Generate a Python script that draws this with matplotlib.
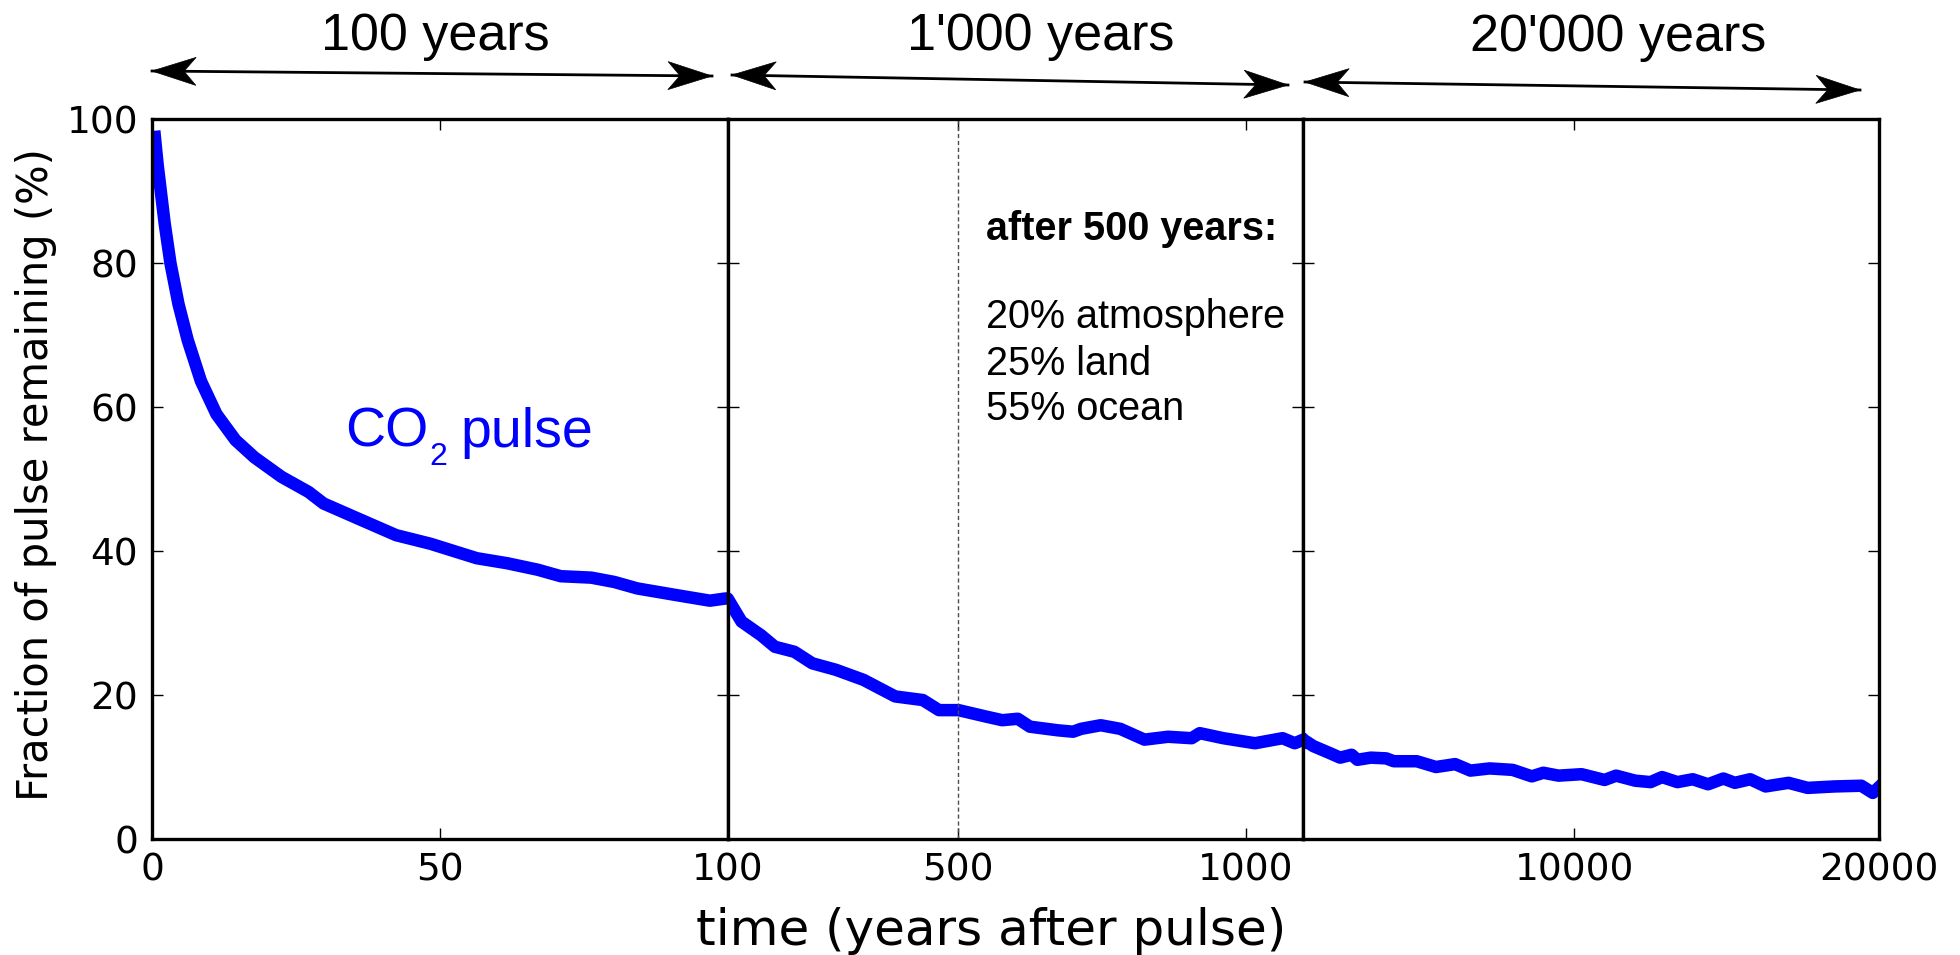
import numpy as np
import matplotlib
matplotlib.use("Agg")
import matplotlib.pyplot as plt
from matplotlib.patches import Polygon
from matplotlib.lines import Line2D

# CO2 pulse remaining (years after pulse, % remaining)
years = [0.5, 1.0, 1.6, 2.2, 3.2, 4.6, 6.2, 8.5, 11.2, 14.5, 17.8, 22.5, 27.2, 29.8,
         35.8, 42.4, 48.4, 56.4, 61.7, 67, 71, 76.3, 80.3, 84.3, 90.9, 96.9, 99.6,
         100, 124, 158, 182, 216, 247, 288, 336, 391, 439, 467, 501, 549, 577,
         604, 625, 673, 700, 714, 748, 782, 824, 865, 906, 920, 961, 1016, 1064,
         1085, 1100,
         1428, 1930, 2308, 2685, 2875, 3315, 3820, 4070, 4824, 5454, 6084, 6586,
         7216, 7971, 8601, 8978, 9480, 10235, 10990, 11367, 11997, 12499, 12877,
         13382, 13884, 14386, 14891, 15268, 15771, 16276, 17030, 17657, 18540,
         19420, 19797, 20000]
frac = [97.5, 93.5, 89.5, 85.5, 80.0, 74.3, 69.3, 63.6, 59.0, 55.4, 53.0, 50.3, 48.2, 46.6,
        44.5, 42.2, 41.0, 39.0, 38.3, 37.4, 36.5, 36.3, 35.7, 34.8, 33.9, 33.1, 33.4,
        33.4, 30.2, 28.3, 26.7, 26.0, 24.4, 23.5, 22.1, 19.8, 19.3, 17.9, 17.9, 17.0, 16.5,
        16.7, 15.6, 15.1, 14.9, 15.3, 15.8, 15.3, 13.8, 14.2, 14.0, 14.7, 14.0, 13.3, 14.0,
        13.3, 13.8,
        12.9, 12.0, 11.3, 11.7, 11.0, 11.3, 11.2, 10.8, 10.8, 10.0, 10.4, 9.5,
        9.8, 9.6, 8.7, 9.2, 8.8, 9.0, 8.2, 8.8, 8.1, 7.9, 8.6,
        7.9, 8.3, 7.6, 8.4, 7.8, 8.3, 7.3, 7.8, 7.1, 7.3,
        7.4, 6.4, 7.2]

panel_limits = [(0, 100), (100, 1100), (1100, 20000)]
panel_ticks = [[0, 50, 100], [500, 1000], [10000, 20000]]
y_ticks = [0, 20, 40, 60, 80, 100]
span_labels = ["100 years", "1'000 years", "20'000 years"]
box_title = "after 500 years:"
box_lines = ["20% atmosphere", "25% land", "55% ocean"]

W, H = 1960, 955
fig = plt.figure(figsize=(W / 100, H / 100), dpi=100)
axes = fig.subplots(1, 3, sharey=True)
fig.subplots_adjust(left=152 / W, right=1879 / W, bottom=1 - 839 / H, top=1 - 119 / H, wspace=0)

for ax, lims, ticks in zip(axes, panel_limits, panel_ticks):
    ax.plot(years, frac, color='blue', lw=9)
    ax.set_xlim(*lims)
    ax.set_ylim(0, 100)
    ax.set_xticks(ticks)
    ax.set_yticks(y_ticks)
    ax.tick_params(direction='in', top=True, right=True, length=8, width=1,
                   labelsize=27, pad=10, colors='k')
    for sp in ax.spines.values():
        sp.set_linewidth(2.4)

axes[1].axvline(500, color='0.3', lw=1, ls=(0, (3, 2)))

# annotation box in the middle panel
axes[1].text(549, 83.2, box_title, fontsize=28.5, fontweight='bold',
             family='Liberation Sans', va='baseline')
for txt, yv in zip(box_lines, [71.0, 64.4, 58.2]):
    axes[1].text(549, yv, txt, fontsize=28.5, family='Liberation Sans', va='baseline')

# "CO2 pulse" label, subscript set by hand
lab = dict(color='blue', family='Liberation Sans', va='baseline')
axes[0].text(33.5, 54.5, 'CO', fontsize=40, **lab)
axes[0].text(48.2, 51.9, '2', fontsize=23, **lab)
axes[0].text(53.6, 54.5, 'pulse', fontsize=40, **lab)

# axis labels
fig.text(991 / W, 1 - 945 / H, 'time (years after pulse)', fontsize=36,
         ha='center', va='baseline')
fig.text(36 / W, 1 - 475 / H, 'Fraction of pulse remaining (%)', fontsize=30,
         rotation=90, ha='center', va='center')


def to_fig(p):
    return (p[0] / W, 1 - p[1] / H)


def stealth_head(tip, tail, length=44, half_w=14, notch=12):
    tip = np.asarray(tip, float)
    u = np.asarray(tail, float) - tip
    u /= np.hypot(*u)
    n = np.array([-u[1], u[0]])
    pts = [tip, tip + length * u + half_w * n, tip + (length - notch) * u,
           tip + length * u - half_w * n]
    return Polygon([to_fig(p) for p in pts], closed=True, transform=fig.transFigure,
                   fc='k', ec='k', lw=0.5)


# span arrows above the panels
arrow_px = [((152, 71), (712, 76)), ((732, 75), (1288, 85)), ((1305, 82), (1860, 90))]
label_px = [(435, 50), (1041, 50), (1618, 51)]
for (a, b), (lx, ly), lab_txt in zip(arrow_px, label_px, span_labels):
    fa, fb = to_fig(a), to_fig(b)
    fig.add_artist(Line2D([fa[0], fb[0]], [fa[1], fb[1]], transform=fig.transFigure,
                          color='k', lw=2))
    fig.add_artist(stealth_head(a, b))
    fig.add_artist(stealth_head(b, a))
    fig.text(lx / W, 1 - ly / H, lab_txt, fontsize=37.5, family='Liberation Sans',
             ha='center', va='baseline')

fig.savefig('out.png', dpi=100)
